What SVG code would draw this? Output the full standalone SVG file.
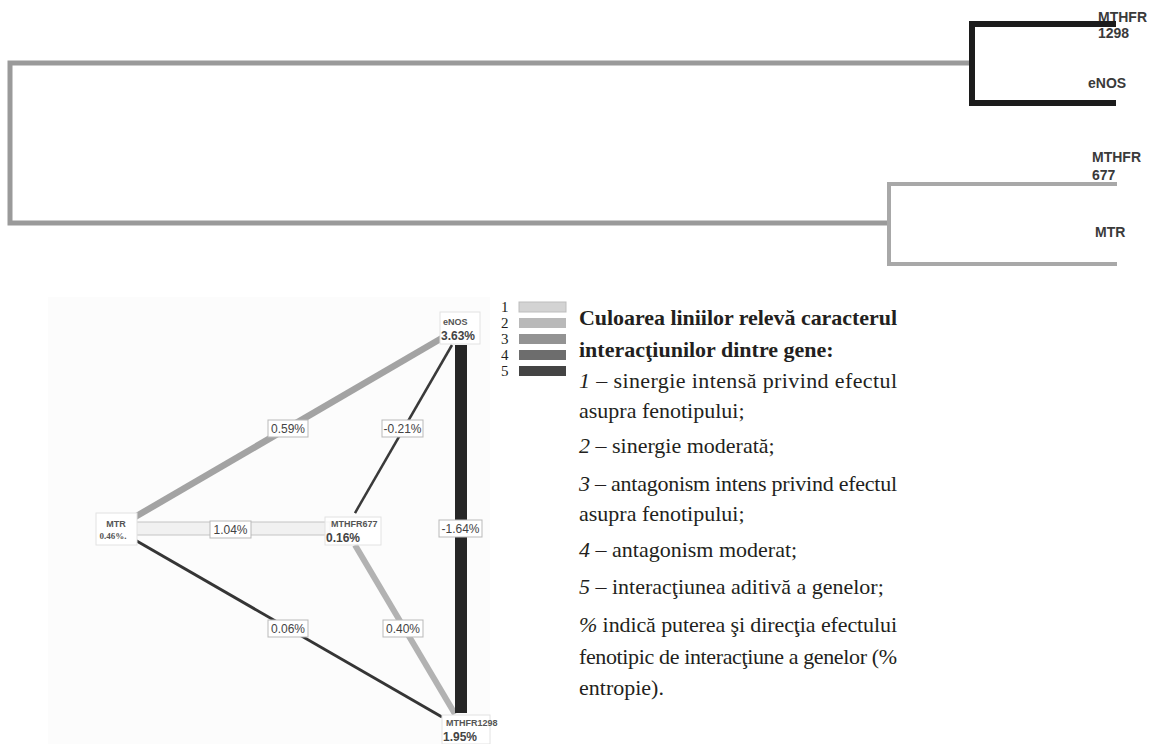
<svg xmlns="http://www.w3.org/2000/svg" width="1156" height="744" viewBox="0 0 1156 744">
<style>
.tg{fill:none;stroke:#9a9a9a;stroke-width:5}
.tg2{fill:none;stroke:#a8a8a8;stroke-width:4}
.tb{fill:none;stroke:#1c1c1c;stroke-width:6}
.tlab{font-family:"Liberation Sans",Arial,sans-serif;font-weight:bold;font-size:14px;fill:#3a3a3a}
.nbox{fill:#ffffff;stroke:#e2e2e2;stroke-width:1}
.nname{font-family:"Liberation Sans",Arial,sans-serif;font-weight:bold;font-size:9px;fill:#555}
.nval{font-family:"Liberation Sans",Arial,sans-serif;font-weight:bold;font-size:12px;fill:#444}
.ebox{fill:#ffffff;stroke:#b9b9b9;stroke-width:1}
.elab{font-family:"Liberation Sans",Arial,sans-serif;font-size:12px;fill:#444;text-anchor:middle}
.tx{font-family:"Liberation Serif","Times New Roman",serif;font-size:22px;fill:#231f20}
.bd{font-weight:bold}
.it{font-style:italic}
.lnum{font-family:"Liberation Serif","Times New Roman",serif;font-size:15px;fill:#231f20}
</style>

<!-- Dendrogram labels -->
<g id="tree-mthfr1298"><text class="tlab" x="1098" y="22">MTHFR</text><text class="tlab" x="1098" y="38">1298</text></g>
<g id="tree-enos"><text class="tlab" x="1088" y="88">eNOS</text></g>
<g id="tree-mthfr677"><text class="tlab" x="1092" y="162">MTHFR</text><text class="tlab" x="1092" y="180">677</text></g>
<g id="tree-mtr"><text class="tlab" x="1095" y="237">MTR</text></g>
<!-- Dendrogram branches -->
<g id="tree-connectors">
  <polyline class="tg" points="972,63 10,63 10,223 889,223"/>
  <polyline class="tb" points="1116,24 972,24 972,103 1116,103"/>
  <polyline class="tg2" points="1117,184 889,184 889,264 1117,264"/>
</g>

<!-- Interaction graph -->
<rect x="48" y="297" width="442" height="447" fill="#fcfcfc"/>
<g id="graph-connectors">
  <line x1="135" y1="517" x2="442" y2="338" stroke="#a3a3a3" stroke-width="6.5"/>
  <line x1="355" y1="513" x2="452" y2="345" stroke="#3a3a3a" stroke-width="2.5"/>
  <line x1="135" y1="540" x2="442" y2="717" stroke="#353535" stroke-width="3"/>
  <line x1="355" y1="545" x2="455" y2="714" stroke="#b2b2b2" stroke-width="6"/>
  <rect x="135" y="522" width="195" height="13" fill="#f1f1f1" stroke="#c4c4c4" stroke-width="1"/>
  <rect x="455" y="345" width="12" height="368" fill="#262626"/>
  <g>
    <rect class="ebox" x="268" y="420" width="40" height="17"/><text class="elab" x="288" y="433">0.59%</text>
    <rect class="ebox" x="382" y="420" width="41" height="17"/><text class="elab" x="402.5" y="433">-0.21%</text>
    <rect class="ebox" x="210" y="521" width="41" height="17"/><text class="elab" x="230.5" y="534">1.04%</text>
    <rect class="ebox" x="439" y="520" width="43" height="17"/><text class="elab" x="460.5" y="533">-1.64%</text>
    <rect class="ebox" x="268" y="620" width="40" height="17"/><text class="elab" x="288" y="633">0.06%</text>
    <rect class="ebox" x="383" y="620" width="40" height="17"/><text class="elab" x="403" y="633">0.40%</text>
  </g>
</g>
<g id="node-enos">
  <rect class="nbox" x="440" y="312" width="40" height="32"/>
  <text class="nname" x="443" y="325">eNOS</text>
  <text class="nval" x="441" y="340">3.63%</text>
</g>
<g id="node-mtr">
  <rect class="nbox" x="96" y="513" width="41" height="32"/>
  <text class="nname" x="116" y="527" text-anchor="middle">MTR</text>
  <text x="113" y="539" text-anchor="middle" font-family="Liberation Serif,serif" font-weight="bold" font-size="9" fill="#555">0.46%.</text>
</g>
<g id="node-mthfr677">
  <rect class="nbox" x="325" y="517" width="56" height="28" fill-opacity="0.8"/>
  <text class="nname" x="331" y="527">MTHFR677</text>
  <text class="nval" x="326" y="542">0.16%</text>
</g>
<g id="node-mthfr1298">
  <rect class="nbox" x="442" y="715" width="48" height="29"/>
  <text class="nname" x="446" y="726">MTHFR1298</text>
  <text class="nval" x="443" y="741">1.95%</text>
</g>

<!-- Legend -->
<g id="legend">
  <text class="lnum" x="501" y="312">1</text>
  <text class="lnum" x="501" y="328">2</text>
  <text class="lnum" x="501" y="344">3</text>
  <text class="lnum" x="501" y="360">4</text>
  <text class="lnum" x="501" y="376">5</text>
  <rect x="519" y="302" width="47" height="10" fill="#d3d3d3" stroke="#bdbdbd" stroke-width="1"/>
  <rect x="519" y="318" width="47" height="10" fill="#b9b9b9"/>
  <rect x="519" y="334" width="47" height="10" fill="#939393"/>
  <rect x="519" y="350" width="47" height="10" fill="#6d6d6d"/>
  <rect x="519" y="366" width="47" height="10" fill="#444444"/>
</g>

<g id="legend-text">
  <text class="tx bd" x="579" y="325" textLength="318" lengthAdjust="spacing">Culoarea liniilor relevă caracterul</text>
  <text class="tx bd" x="579" y="357">interacţiunilor dintre gene:</text>
  <text class="tx" x="579" y="388" textLength="318" lengthAdjust="spacing"><tspan class="it">1</tspan> – sinergie intensă privind efectul</text>
  <text class="tx" x="579" y="418">asupra fenotipului;</text>
  <text class="tx" x="579" y="453"><tspan class="it">2</tspan> – sinergie moderată;</text>
  <text class="tx" x="579" y="491" textLength="318" lengthAdjust="spacing"><tspan class="it">3</tspan> – antagonism intens privind efectul</text>
  <text class="tx" x="579" y="521">asupra fenotipului;</text>
  <text class="tx" x="579" y="557"><tspan class="it">4</tspan> – antagonism moderat;</text>
  <text class="tx" x="579" y="594"><tspan class="it">5</tspan> – interacţiunea aditivă a genelor;</text>
  <text class="tx" x="579" y="632" textLength="318" lengthAdjust="spacing"><tspan class="it">%</tspan> indică puterea şi direcţia efectului</text>
  <text class="tx" x="579" y="664" textLength="318" lengthAdjust="spacing">fenotipic de interacţiune a genelor (%</text>
  <text class="tx" x="579" y="695">entropie).</text>
</g>
</svg>
